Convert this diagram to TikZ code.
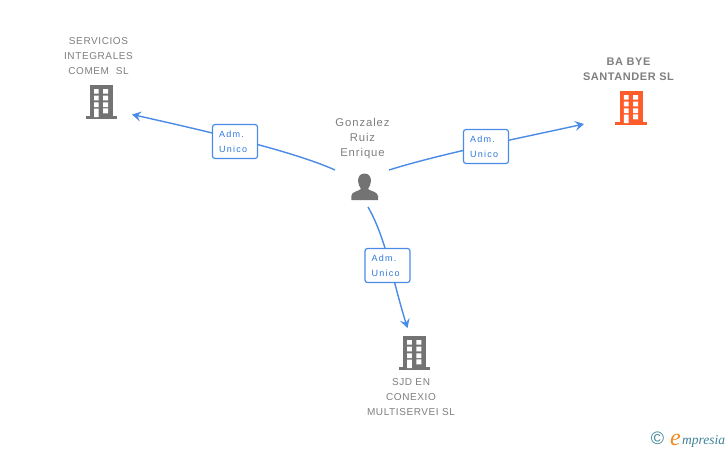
\documentclass[tikz,border=0pt]{standalone}
\usepackage{fontspec}
\setmainfont{Liberation Sans}
\newfontfamily\spaced[LetterSpace=6]{Liberation Sans}
\newfontfamily\spacedrole[LetterSpace=14]{Liberation Sans}
\newfontfamily\spacedname[LetterSpace=8]{Liberation Sans}
\newfontfamily\spacedb[LetterSpace=5]{Liberation Sans}
\newfontfamily\logofont{Liberation Serif}
\usetikzlibrary{arrows.meta}
\definecolor{icongray}{HTML}{737373}
\definecolor{textgray}{HTML}{7F7F7F}
\definecolor{linkblue}{HTML}{4A8BE8}
\definecolor{labelblue}{HTML}{2F78DC}
\definecolor{iconorange}{HTML}{FF5C2B}
\definecolor{logoteal}{HTML}{3F8299}
\definecolor{logoorange}{HTML}{F28C1E}
\tikzset{
  every node/.style={inner sep=0pt,outer sep=0pt},
  link/.style={linkblue,line width=1.4pt},
  linkarrow/.style={link,-{Stealth[length=9pt,width=10pt,inset=3.5pt]}},
  rolebox/.style={draw=linkblue,line width=1.2pt,rounded corners=2.5pt,fill=white,
    minimum width=45pt,minimum height=34pt,align=left,text=labelblue,font=\spacedrole\fontsize{9}{15}\selectfont,text width=34pt,inner sep=0pt},
  caption/.style={align=center,text=textgray,font=\spaced\fontsize{10}{15}\selectfont},
  boldcaption/.style={align=center,text=textgray,font=\spacedb\bfseries\fontsize{11}{15.5}\selectfont},
  personname/.style={align=center,text=textgray,font=\spacedname\fontsize{11.3}{15}\selectfont},
  iconbox/.style={minimum width=32pt,minimum height=34pt},
}
% building icon: #1 node name, #2 centre x, #3 top y, #4 colour
\newcommand{\buildingicon}[4]{%
  \node[iconbox] (#1) at (#2,#3+17) {};
  \begin{scope}[shift={(#2,#3)}]
    \fill[#4] (-11.5,0) rectangle (11.5,32);
    \fill[#4] (-15.7,31) rectangle (15.7,33.8);
    \fill[white]
      (-7.2,4) rectangle (-2.5,8.7) (2,4) rectangle (7,8.7)
      (-7.2,10.7) rectangle (-2.5,15.3) (2,10.7) rectangle (7,15.3)
      (-7.2,17.3) rectangle (-2.5,22) (2,17.3) rectangle (7,22)
      (-7.2,23.5) rectangle (-2.5,32) (2,23.3) rectangle (7,28.3);
  \end{scope}}
\begin{document}
\begin{tikzpicture}[x=1pt,y=-1pt]
\useasboundingbox (0,0) rectangle (728,450);
\fill[white] (0,0) rectangle (728,450);

% icons
\buildingicon{servicios}{101.2}{85}{icongray}
\buildingicon{babye}{631}{91}{iconorange}
\buildingicon{sjd}{414.3}{336}{icongray}

% person
\node[minimum width=27pt,minimum height=27pt] (person) at (364.5,186.5) {};
\fill[icongray] (364.5,173.5) .. controls (360,173.5) and (358,177) .. (358,181)
  .. controls (358,184.5) and (360,187) .. (361,189)
  .. controls (358,191.5) and (351.5,191.5) .. (351.3,196) -- (351.3,200) -- (378,200) -- (378,196)
  .. controls (377.5,191.5) and (371,191.5) .. (368,189)
  .. controls (369,187) and (371,184.5) .. (371,181)
  .. controls (371,177) and (369,173.5) .. (364.5,173.5) -- cycle;

% connector start points
\coordinate (startL) at (335,170);
\coordinate (startR) at (389,170);
\coordinate (startB) at (368,207);
\coordinate (endL) at (132,114.5);
\coordinate (endR) at (584,124);
\coordinate (endB) at (407.5,328);

% connectors
\draw[linkarrow] (startL) .. controls (295,152) and (215,133) .. (endL);
\draw[linkarrow] (startR) .. controls (440,154) and (520,138) .. (endR);
\draw[linkarrow] (startB) .. controls (386,238) and (393,282) .. (endB);

% role labels
\node[rolebox] (roleL) at (235,141.5) {\hspace*{1pt}Adm.\\\hspace*{1pt}Unico};
\node[rolebox] (roleR) at (486,146.5) {\hspace*{1pt}Adm.\\\hspace*{1pt}Unico};
\node[rolebox] (roleB) at (387.5,265.5) {\hspace*{1pt}Adm.\\\hspace*{1pt}Unico};

% captions
\node[caption] (capS) at (98.5,56) {SERVICIOS\\INTEGRALES\\COMEM\ \ SL};
\node[boldcaption] (capB) at (628.5,69.5) {BA BYE\\SANTANDER SL};
\node[caption] (capJ) at (411,397) {SJD EN\\CONEXIO\\MULTISERVEI SL};
\node[personname] (capP) at (362.5,139) {Gonzalez\\Ruiz\\Enrique};

% logo
\node[text=logoteal,font=\fontsize{18}{18}\selectfont] (copy) at (657.5,438.5) {©};
\node[anchor=base west,text=logoorange,font=\logofont\itshape\fontsize{24}{24}\selectfont] (logoe) at (670,445) {e};
\node[anchor=base west,text=logoteal,font=\logofont\itshape\fontsize{13.5}{13.5}\selectfont] (logot) at (682,444) {mpresia};
\end{tikzpicture}
\end{document}
